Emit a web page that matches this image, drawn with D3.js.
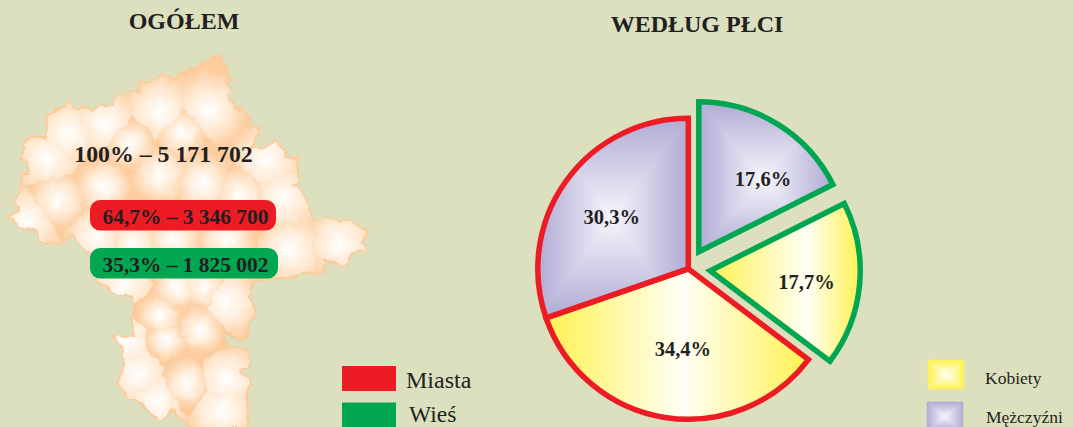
<!DOCTYPE html>
<html lang="pl"><head><meta charset="utf-8">
<script src="https://cdn.jsdelivr.net/npm/d3@7"></script>
<style>html,body{margin:0;padding:0;background:#DDE0BE;overflow:hidden}svg{display:block}
text{font-family:"Liberation Serif","Times New Roman",serif;fill:#231F20}</style></head><body>
<svg id="c" width="1073" height="427"></svg>
<script>
const titles = ["OGÓŁEM", "WEDŁUG PŁCI"];
const totalLabel = "100% – 5 171 702";
const areaShares = ["64,7% – 3 346 700", "35,3% – 1 825 002"];
const areaNames = ["Miasta", "Wieś"];
const areaColors = ["#ED1C24", "#00A651"];
const sliceValues = [17.6, 17.7, 34.4, 30.3];
const sliceSex = [1, 0, 0, 1];
const sliceArea = [1, 1, 0, 0];
const sexNames = ["Kobiety", "Mężczyźni"];
const sexOuter = ["#FFF250", "#AFABD4"];
const sexInner = ["#FFFFF6", "#F6F5FB"];
// voivodeship outline and county centres, in map units of the source sheet
const outline = [[640,48],[665,50],[672,75],[680,90],[695,115],[680,125],[688,165],[700,200],[735,215],[755,235],[745,262],[775,265],[770,295],[755,320],[790,322],[825,305],[850,315],[860,355],[895,345],[895,430],[880,435],[905,450],[920,470],[925,505],[935,530],[985,535],[1050,540],[1085,570],[1105,570],[1085,610],[1095,635],[1060,635],[1040,680],[1000,670],[970,665],[975,695],[950,705],[900,700],[880,715],[830,715],[760,725],[745,770],[770,820],[745,850],[750,885],[715,905],[700,885],[665,885],[690,925],[745,930],[750,990],[725,990],[750,1030],[740,1170],[600,1170],[555,1150],[520,1110],[480,1140],[440,1110],[410,1085],[385,1075],[350,1025],[375,990],[365,930],[345,885],[400,885],[395,825],[415,800],[390,770],[340,755],[295,725],[270,640],[220,590],[190,605],[135,615],[105,575],[60,560],[30,535],[60,500],[45,490],[65,410],[90,400],[65,355],[75,305],[105,285],[135,290],[145,265],[135,225],[185,205],[205,180],[220,205],[265,200],[275,210],[340,195],[355,160],[415,155],[415,130],[480,115],[490,105],[525,110],[555,95],[600,70],[620,65]];
const countyCentres = [[625,210],[480,215],[545,280],[315,250],[205,280],[140,355],[390,310],[175,480],[310,440],[480,405],[610,430],[800,360],[720,470],[850,470],[870,630],[1020,610],[290,590],[400,610],[520,600],[680,600],[80,545],[370,730],[530,740],[610,740],[680,785],[480,825],[600,870],[500,900],[415,1000],[560,1030],[470,1085],[680,1020],[665,1110],[380,905]];

const svg = d3.select("#c");
const defs = svg.append("defs");
const W = 1073, H = 427;
svg.append("rect").attr("width", W).attr("height", H).attr("fill", "#DDE0BE");
const title = (t, x, y) => svg.append("text").text(t).attr("x", x).attr("y", y).attr("text-anchor", "middle").attr("font-size", 24).attr("font-weight", "bold");
title(titles[0], 184, 29); title(titles[1], 697, 32);

/* ---- map ---- */
const rough = defs.append("filter").attr("id", "rough").attr("x", "-5%").attr("y", "-5%").attr("width", "110%").attr("height", "110%");
rough.append("feTurbulence").attr("type", "fractalNoise").attr("baseFrequency", .09).attr("numOctaves", 3).attr("seed", 4).attr("result", "n");
rough.append("feDisplacementMap").attr("in", "SourceGraphic").attr("in2", "n").attr("scale", 9).attr("xChannelSelector", "R").attr("yChannelSelector", "G").attr("result", "d");
rough.append("feGaussianBlur").attr("in", "d").attr("stdDeviation", .55);
const mapX = d3.scaleLinear().domain([0, 1140]).range([0, 380]);
const mapY = d3.scaleLinear().domain([0, 1161]).range([40, 427]);
const geo = d3.geoPath(d3.geoTransform({point(x, y) { this.stream.point(mapX(x), mapY(y)); }}));
const ring = outline.concat([outline[0]]).reverse();
defs.append("clipPath").attr("id", "mapClip").append("path").attr("d", geo({type: "Polygon", coordinates: [ring]}));
const vor = d3.Delaunay.from(countyCentres).voronoi([0, 0, 1140, 1200]);
const mapOuter = svg.append("g").attr("filter", "url(#rough)");
const mapG = mapOuter.append("g").attr("clip-path", "url(#mapClip)");
countyCentres.forEach((c, i) => {
  const poly = vor.cellPolygon(i);
  const r = d3.mean(poly, p => Math.hypot(p[0] - c[0], p[1] - c[1]));
  const gr = defs.append("radialGradient").attr("id", "cty" + i).attr("gradientUnits", "userSpaceOnUse")
    .attr("cx", mapX(c[0])).attr("cy", mapY(c[1])).attr("r", mapX(Math.min(r * .92, 125)));
  gr.append("stop").attr("offset", 0).attr("stop-color", "#FFFFFF");
  gr.append("stop").attr("offset", .5).attr("stop-color", "#FFEAD4");
  gr.append("stop").attr("offset", 1).attr("stop-color", "#FDCB9C");
  mapG.append("path").attr("d", geo({type: "Polygon", coordinates: [poly.slice().reverse()]}))
    .attr("fill", `url(#cty${i})`);
});
mapOuter.append("path").attr("d", geo({type: "Polygon", coordinates: [ring]})).attr("fill", "none").attr("stroke", "#FCCB9B").attr("stroke-width", 2);
svg.append("text").text(totalLabel).attr("x", 163.5).attr("y", 162).attr("text-anchor", "middle").attr("font-size", 23.8).attr("font-weight", "bold");
const pills = [[90, 200, 186], [90, 248, 188]];
areaShares.forEach((t, i) => {
  svg.append("rect").attr("x", pills[i][0]).attr("y", pills[i][1]).attr("width", pills[i][2]).attr("height", 30.5).attr("rx", 10).attr("fill", areaColors[i]);
  svg.append("text").text(t).attr("x", 185.5).attr("y", pills[i][1] + 24).attr("text-anchor", "middle").attr("font-size", 21.4).attr("font-weight", "bold");
});
areaNames.forEach((t, i) => {
  const y = 366 + i * 36.5;
  svg.append("rect").attr("x", 342).attr("y", y).attr("width", 54).attr("height", 25).attr("fill", areaColors[i]);
  svg.append("text").text(t).attr("x", i ? 409 : 406).attr("y", i ? 421.5 : 388).attr("font-size", i ? 23.5 : 24);
});

/* gradients: four-sided box, or two-sided bands */
let uid = 0;
function boxGradient(parent, b, c, inner, outer, bandsOnly) {
  const corners = [[b.x, b.y], [b.x + b.width, b.y], [b.x + b.width, b.y + b.height], [b.x, b.y + b.height]];
  const targets = [[c[0], b.y], [b.x + b.width, c[1]], [c[0], b.y + b.height], [b.x, c[1]]];
  const tris = [0, 1, 2, 3].map(k => [corners[k], corners[(k + 1) % 4], c]);
  if (bandsOnly) {
    tris[1] = [[c[0], b.y], corners[1], corners[2], [c[0], b.y + b.height]];
    tris[3] = [corners[0], [c[0], b.y], [c[0], b.y + b.height], corners[3]];
  }
  (bandsOnly ? [1, 3] : [0, 1, 2, 3]).forEach(k => {
    const id = "bg" + (uid++);
    const g = defs.append("linearGradient").attr("id", id).attr("gradientUnits", "userSpaceOnUse")
      .attr("x1", c[0]).attr("y1", c[1]).attr("x2", targets[k][0]).attr("y2", targets[k][1]);
    g.append("stop").attr("offset", 0).attr("stop-color", inner);
    g.append("stop").attr("offset", 1).attr("stop-color", outer);
    parent.append("path").attr("d", d3.line()(tris[k]) + "Z").attr("fill", `url(#${id})`)
      .attr("stroke", `url(#${id})`).attr("stroke-width", .6);
  });
}

/* ---- pie ---- */
const cx = 688.3, cy = 268.8;
const radii = [150, 150, 150.5, 150.5];
const explode = [20, 22, 0, 0];
const labelTurn = [0.17, 0.03, -0.09, -0.03];
const labelR = [97, 97, 81, 92];
const pie = d3.pie().sort(null)(sliceValues);
const fmt = v => v.toFixed(1).replace(".", ",") + "%";
const pieG = svg.append("g").attr("transform", `translate(${cx},${cy})`);
const lay = pie.map((d, i) => {
  const mid = (d.startAngle + d.endAngle) / 2;
  const ox = Math.sin(mid) * explode[i], oy = -Math.cos(mid) * explode[i];
  const la = mid + labelTurn[i];
  return {d, i, ox, oy, lx: ox + Math.sin(la) * labelR[i], ly: oy - Math.cos(la) * labelR[i],
          path: d3.arc().innerRadius(0).outerRadius(radii[i])(d)};
});
lay.forEach(s => {
  const g = pieG.append("g").attr("transform", `translate(${s.ox},${s.oy})`);
  const probe = g.append("path").attr("d", s.path).attr("fill", "none");
  const b = probe.node().getBBox(); probe.remove();
  const id = "sl" + s.i;
  defs.append("clipPath").attr("id", id).append("path").attr("d", s.path);
  const f = g.append("g").attr("clip-path", `url(#${id})`);
  const sx = sliceSex[s.i];
  boxGradient(f, b, [s.lx - s.ox, s.ly - s.oy], sexInner[sx], sexOuter[sx], sx === 0);
});
[3, 2, 0, 1].forEach(k => {
  const s = lay[k];
  pieG.append("path").attr("transform", `translate(${s.ox},${s.oy})`).attr("d", s.path)
    .attr("fill", "none").attr("stroke", areaColors[sliceArea[s.i]]).attr("stroke-width", 5.5)
    .attr("stroke-linejoin", "miter").attr("stroke-miterlimit", 10);
});
lay.forEach(s => {
  pieG.append("text").text(fmt(sliceValues[s.i])).attr("x", s.lx).attr("y", s.ly + 6.5)
    .attr("text-anchor", "middle").attr("font-size", 20.5).attr("font-weight", "bold");
});

/* ---- legend ---- */
sexNames.forEach((t, i) => {
  const x = 928 - i, y = i ? 402 : 360, h = 29;
  const g = svg.append("g");
  boxGradient(g, {x, y, width: 36, height: h}, [x + 18, y + h / 2], sexInner[i], sexOuter[i], false);
  svg.append("text").text(t).attr("x", 985 + i).attr("y", i ? 423 : 384).attr("font-size", 17.5);
});
</script></body></html>
